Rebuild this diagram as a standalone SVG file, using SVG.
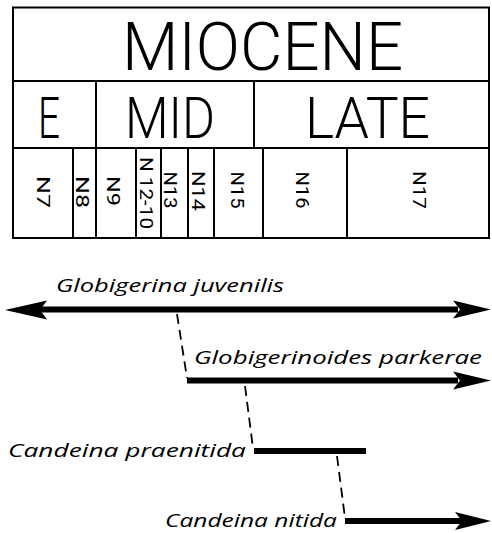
<svg xmlns="http://www.w3.org/2000/svg" width="492" height="533" viewBox="0 0 492 533">
  <style>
    .grid { fill: none; stroke: #000; stroke-width: 2; }
    .head { font-family: Roboto, "Liberation Sans", sans-serif; font-weight: 300; fill: #000; }
    .zone { font-family: Roboto, "Liberation Sans", sans-serif; font-weight: 400; font-size: 18px; fill: #000; text-anchor: middle; }
    .taxon { font-family: "Open Sans", "Noto Sans", "Liberation Sans", sans-serif; font-style: italic; font-weight: 400; font-size: 19px; fill: #000; }
    .bar { stroke: #000; stroke-width: 6; fill: none; }
    .dash { stroke: #000; stroke-width: 1.8; stroke-dasharray: 10 6; fill: none; }
    .tip { fill: #000; }
  </style>

  <!-- time scale table -->
  <g id="timescale">
    <rect class="grid" x="13" y="7.5" width="476" height="230.5"/>
    <line class="grid" x1="13" y1="81" x2="489" y2="81"/>
    <line class="grid" x1="13" y1="148" x2="489" y2="148"/>
    <line class="grid" x1="96" y1="81" x2="96" y2="238"/>
    <line class="grid" x1="254" y1="81" x2="254" y2="148"/>
    <line class="grid" x1="73" y1="148" x2="73" y2="238"/>
    <line class="grid" x1="136" y1="148" x2="136" y2="238"/>
    <line class="grid" x1="161" y1="148" x2="161" y2="238"/>
    <line class="grid" x1="188" y1="148" x2="188" y2="238"/>
    <line class="grid" x1="214" y1="148" x2="214" y2="238"/>
    <line class="grid" x1="263" y1="148" x2="263" y2="238"/>
    <line class="grid" x1="347" y1="148" x2="347" y2="238"/>
  </g>

  <g id="epoch">
    <text class="head" x="122" y="70" font-size="67" textLength="281" lengthAdjust="spacingAndGlyphs">MIOCENE</text>
  </g>
  <g id="sub-early"><text class="head" x="38" y="138" font-size="57" textLength="22" lengthAdjust="spacingAndGlyphs">E</text></g>
  <g id="sub-mid"><text class="head" x="125" y="138" font-size="57" textLength="90" lengthAdjust="spacingAndGlyphs">MID</text></g>
  <g id="sub-late"><text class="head" x="305" y="138" font-size="57" textLength="125" lengthAdjust="spacingAndGlyphs">LATE</text></g>

  <!-- planktonic foraminiferal zones, lettered downwards -->
  <g id="zone-n7"><text class="zone" transform="translate(36.5,192) rotate(90)" textLength="32" lengthAdjust="spacingAndGlyphs">N7</text></g>
  <g id="zone-n8"><text class="zone" transform="translate(75.5,192) rotate(90)" textLength="32" lengthAdjust="spacingAndGlyphs">N8</text></g>
  <g id="zone-n9"><text class="zone" transform="translate(107,191) rotate(90)" textLength="30" lengthAdjust="spacingAndGlyphs">N9</text></g>
  <g id="zone-n12-10"><text class="zone" transform="translate(139.5,193) rotate(90)" textLength="72" lengthAdjust="spacingAndGlyphs">N 12-10</text></g>
  <g id="zone-n13"><text class="zone" transform="translate(164,190) rotate(90)" textLength="37" lengthAdjust="spacingAndGlyphs">N13</text></g>
  <g id="zone-n14"><text class="zone" transform="translate(192,191) rotate(90)" textLength="40" lengthAdjust="spacingAndGlyphs">N14</text></g>
  <g id="zone-n15"><text class="zone" transform="translate(231,190) rotate(90)" textLength="37" lengthAdjust="spacingAndGlyphs">N15</text></g>
  <g id="zone-n16"><text class="zone" transform="translate(296,190) rotate(90)" textLength="37" lengthAdjust="spacingAndGlyphs">N16</text></g>
  <g id="zone-n17"><text class="zone" transform="translate(413,190) rotate(90)" textLength="38" lengthAdjust="spacingAndGlyphs">N17</text></g>

  <!-- taxon labels -->
  <g id="taxon-juvenilis"><text class="taxon" x="56" y="292" textLength="228" lengthAdjust="spacingAndGlyphs">Globigerina juvenilis</text></g>
  <g id="taxon-parkerae"><text class="taxon" x="194" y="364" textLength="288" lengthAdjust="spacingAndGlyphs">Globigerinoides parkerae</text></g>
  <g id="taxon-praenitida"><text class="taxon" x="8" y="457" textLength="238" lengthAdjust="spacingAndGlyphs">Candeina praenitida</text></g>
  <g id="taxon-nitida"><text class="taxon" x="165" y="527" textLength="172" lengthAdjust="spacingAndGlyphs">Candeina nitida</text></g>

  <!-- range bars and descent links -->
  <g id="connectors">
    <line class="bar" x1="40" y1="309.5" x2="458" y2="309.5" stroke-width="6.5"/>
    <path class="tip" d="M5,310 L47,300.5 L40,310 L47,319.5 Z"/>
    <path class="tip" d="M491,309.5 L453,300.5 L460,309.5 L453,318.5 Z"/>

    <line class="dash" x1="177" y1="314" x2="187" y2="378"/>
    <line class="bar" x1="187" y1="380.5" x2="458" y2="380.5" stroke-width="6.5"/>
    <path class="tip" d="M491,380.5 L453,371.5 L460,380.5 L453,389.5 Z"/>

    <line class="dash" x1="245" y1="386" x2="253" y2="448"/>
    <line class="bar" x1="254" y1="451" x2="366" y2="451" stroke-width="7.5"/>

    <line class="dash" x1="337" y1="456" x2="345" y2="518"/>
    <line class="bar" x1="345" y1="521" x2="462" y2="521" stroke-width="7"/>
    <path class="tip" d="M491,521 L455,512 L462,521 L455,530 Z"/>
  </g>
</svg>
